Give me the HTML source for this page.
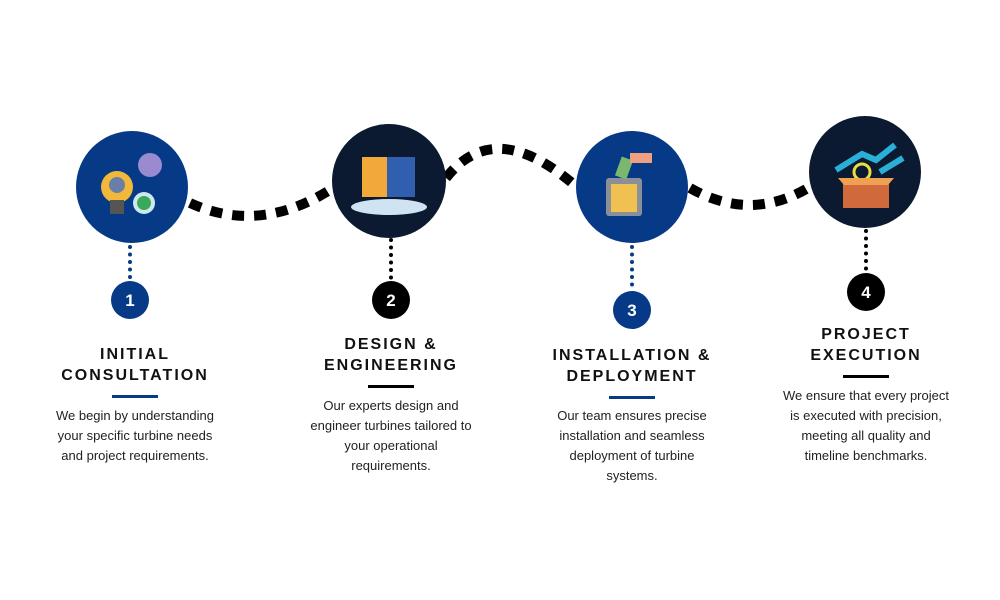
<!DOCTYPE html>
<html><head><meta charset="utf-8"><style>
html,body{margin:0;padding:0;background:#fff;}
body{width:1000px;height:600px;position:relative;overflow:hidden;font-family:"Liberation Sans",sans-serif;}
.t{position:absolute;text-align:center;font-weight:bold;font-size:16px;letter-spacing:2px;line-height:21px;color:#111;white-space:nowrap;}
.b{position:absolute;text-align:center;font-size:13px;line-height:20px;color:#222;white-space:nowrap;}
.u{position:absolute;height:3px;width:46px;}
</style></head><body>
<svg width="1000" height="600" style="position:absolute;left:0;top:0">
<g fill="none" stroke="#000" stroke-width="10" stroke-dasharray="12 10">
<path d="M190,203 Q260,235 333,188"/>
<path d="M446,178 Q495,115 578,188"/>
<path d="M690,188 Q750,222 808,188"/>
</g>
<g stroke-width="4" stroke-linecap="round" stroke-dasharray="0 7.5">
<line x1="130" y1="247" x2="130" y2="280" stroke="#0a3a80"/>
<line x1="391" y1="240" x2="391" y2="280" stroke="#000"/>
<line x1="632" y1="247" x2="632" y2="290" stroke="#0a3a80"/>
<line x1="866" y1="231" x2="866" y2="272" stroke="#000"/>
</g>
<circle cx="132" cy="187" r="56" fill="#063a86"/>
<circle cx="389" cy="181" r="57" fill="#0b1a30"/>
<circle cx="632" cy="187" r="56" fill="#063a86"/>
<circle cx="865" cy="172" r="56" fill="#0b1a30"/>
<circle cx="117" cy="187" r="16" fill="#f2b83a"/><rect x="110" y="200" width="14" height="14" fill="#555"/>
<circle cx="117" cy="185" r="8" fill="#6a7fa8"/><circle cx="150" cy="165" r="12" fill="#9a8ad0"/>
<circle cx="144" cy="203" r="11" fill="#cfe8ee"/><circle cx="144" cy="203" r="7" fill="#3aaa5a"/>
<rect x="362" y="157" width="25" height="40" fill="#f2a93a"/><rect x="387" y="157" width="28" height="40" fill="#2f5fae"/>
<ellipse cx="389" cy="207" rx="38" ry="8" fill="#cfe3f3"/>
<rect x="606" y="178" width="36" height="38" rx="3" fill="#8a8f98"/><rect x="611" y="184" width="26" height="28" fill="#f0c050"/>
<rect x="618" y="158" width="12" height="20" fill="#7ab870" transform="rotate(20 624 168)"/><rect x="630" y="153" width="22" height="10" fill="#f0a080"/>
<path d="M836,170 L862,154 L876,160 L895,145" stroke="#2ab0d8" stroke-width="6" fill="none"/>
<path d="M880,172 L903,158" stroke="#2ab0d8" stroke-width="6" fill="none"/>
<circle cx="862" cy="172" r="8" fill="none" stroke="#e8e040" stroke-width="3"/>
<rect x="843" y="178" width="46" height="30" fill="#d06a3c"/><path d="M838,178 L894,178 L888,185 L844,185Z" fill="#f0a050"/>
<circle cx="130" cy="300" r="19" fill="#063a86"/>
<circle cx="391" cy="300" r="19" fill="#000"/>
<circle cx="632" cy="310" r="19" fill="#063a86"/>
<circle cx="866" cy="292" r="19" fill="#000"/>
<g fill="#fff" font-family="Liberation Sans,sans-serif" font-weight="bold" font-size="17" text-anchor="middle">
<text x="130" y="306">1</text><text x="391" y="306">2</text><text x="632" y="316">3</text><text x="866" y="298">4</text>
</g>
</svg>
<div class="t" style="left:35px;width:200px;top:344px">INITIAL<br>CONSULTATION</div>
<div class="u" style="left:112px;top:395px;background:#063a86"></div>
<div class="b" style="left:35px;width:200px;top:406px">We begin by understanding<br>your specific turbine needs<br>and project requirements.</div>
<div class="t" style="left:291px;width:200px;top:334px">DESIGN &amp;<br>ENGINEERING</div>
<div class="u" style="left:368px;top:385px;background:#000"></div>
<div class="b" style="left:291px;width:200px;top:396px">Our experts design and<br>engineer turbines tailored to<br>your operational<br>requirements.</div>
<div class="t" style="left:532px;width:200px;top:345px">INSTALLATION &amp;<br>DEPLOYMENT</div>
<div class="u" style="left:609px;top:396px;background:#063a86"></div>
<div class="b" style="left:532px;width:200px;top:406px">Our team ensures precise<br>installation and seamless<br>deployment of turbine<br>systems.</div>
<div class="t" style="left:766px;width:200px;top:324px">PROJECT<br>EXECUTION</div>
<div class="u" style="left:843px;top:375px;background:#000"></div>
<div class="b" style="left:766px;width:200px;top:386px">We ensure that every project<br>is executed with precision,<br>meeting all quality and<br>timeline benchmarks.</div>
</body></html>
